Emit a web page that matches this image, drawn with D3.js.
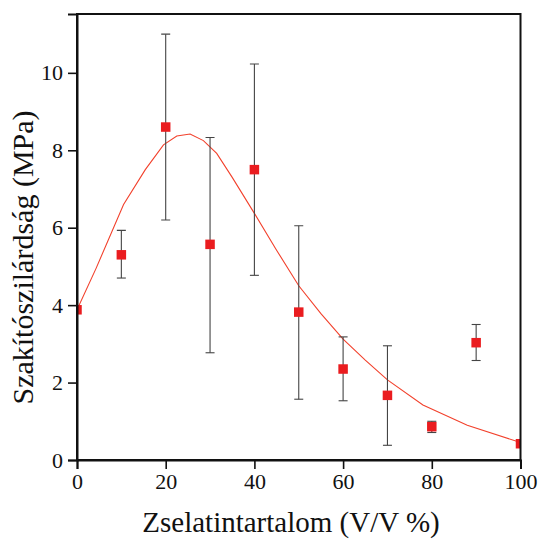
<!DOCTYPE html>
<html><head><meta charset="utf-8">
<script src="https://cdn.jsdelivr.net/npm/d3@7"></script>
<style>body{margin:0;background:#fff;}svg{display:block;}</style>
</head><body>
<script>
const xVals = [0, 10, 20, 30, 40, 50, 60, 70, 80, 90, 100];
const yVals = [3.88, 5.3, 8.6, 5.57, 7.5, 3.82, 2.35, 1.67, 0.86, 3.03, 0.42];
const errLow = [null, 4.7, 6.2, 2.77, 4.77, 1.57, 1.53, 0.38, 0.71, 2.57, null];
const errHigh = [null, 5.93, 11.0, 8.33, 10.23, 6.05, 3.18, 2.95, 1.0, 3.5, null];
const fitX = [0, 4.3, 10.5, 15.4, 19.5, 22.5, 25.5, 28.5, 31.5, 35, 40, 45, 50, 55, 60, 65, 70, 78, 88, 100];
const fitY = [3.88, 4.95, 6.6, 7.5, 8.14, 8.37, 8.42, 8.25, 7.92, 7.3, 6.37, 5.42, 4.5, 3.78, 3.12, 2.58, 2.07, 1.42, 0.9, 0.45];
const xTicks = [0, 20, 40, 60, 80, 100];
const yTicks = [0, 2, 4, 6, 8, 10];
const xTitle = "Zselatintartalom (V/V %)";
const yTitle = "Szakítószilárdság (MPa)";

const W = 539, H = 542;
const L = 77, R = 520.5, T = 14, B = 460;
const svg = d3.select("body").append("svg").attr("width", W).attr("height", H);
const x = d3.scaleLinear().domain([0, 100]).range([L, R]);
const y = d3.scaleLinear().domain([0, 11.52]).range([B, T]);
const font = "Liberation Serif";

svg.append("defs").append("clipPath").attr("id", "clip")
  .append("rect").attr("x", L).attr("y", T).attr("width", R - L).attr("height", B - T);

const plot = svg.append("g").attr("clip-path", "url(#clip)");

// fitted curve
const line = d3.line().x(d => x(d[0])).y(d => y(d[1]));
plot.append("path").datum(fitX.map((v, i) => [v, fitY[i]]))
  .attr("d", line).attr("fill", "none").attr("stroke", "#f2412c").attr("stroke-width", 1.1);

// error bars
const eb = xVals.map((v, i) => ({x: v, lo: errLow[i], hi: errHigh[i]})).filter(d => d.lo != null);
const ebG = plot.append("g").attr("stroke", "#444").attr("stroke-width", 1.1);
eb.forEach(d => {
  ebG.append("line").attr("x1", x(d.x)).attr("x2", x(d.x)).attr("y1", y(d.lo)).attr("y2", y(d.hi));
  ebG.append("line").attr("x1", x(d.x) - 4.5).attr("x2", x(d.x) + 4.5).attr("y1", y(d.lo)).attr("y2", y(d.lo));
  ebG.append("line").attr("x1", x(d.x) - 4.5).attr("x2", x(d.x) + 4.5).attr("y1", y(d.hi)).attr("y2", y(d.hi));
});

// points
const s = 9.5;
plot.selectAll("rect.pt").data(xVals.map((v, i) => [v, yVals[i]])).enter().append("rect")
  .attr("class", "pt")
  .attr("x", d => x(d[0]) - s / 2).attr("y", d => y(d[1]) - s / 2)
  .attr("width", s).attr("height", s).attr("fill", "#ea1c1f");

// frame
svg.append("rect").attr("x", L).attr("y", T).attr("width", R - L).attr("height", B - T)
  .attr("fill", "none").attr("stroke", "#111").attr("stroke-width", 2);

// axes
const xAxis = d3.axisBottom(x).tickValues(xTicks).tickSize(9).tickPadding(4).tickFormat(d3.format("d"));
const yAxis = d3.axisLeft(y).tickValues(yTicks).tickSize(9).tickPadding(5).tickFormat(d3.format("d"));
const gx = svg.append("g").attr("transform", `translate(0,${B})`).call(xAxis);
const gy = svg.append("g").attr("transform", `translate(${L},0)`).call(yAxis);
[gx, gy].forEach(g => {
  g.attr("font-family", null);
  g.select(".domain").attr("stroke", "#111").attr("stroke-width", 2);
  g.selectAll(".tick line").attr("stroke", "#111").attr("stroke-width", 1.6);
  g.selectAll(".tick text").style("font-family", font).attr("font-size", 22).attr("fill", "#111");
});

// titles
svg.append("text").attr("x", 291).attr("y", 532).attr("text-anchor", "middle")
  .style("font-family", font).attr("font-size", 29).attr("fill", "#111").text(xTitle);
svg.append("text").attr("transform", "translate(33,257.5) rotate(-90)").attr("text-anchor", "middle")
  .style("font-family", font).attr("font-size", 30).attr("fill", "#111").text(yTitle);
</script>
</body></html>
